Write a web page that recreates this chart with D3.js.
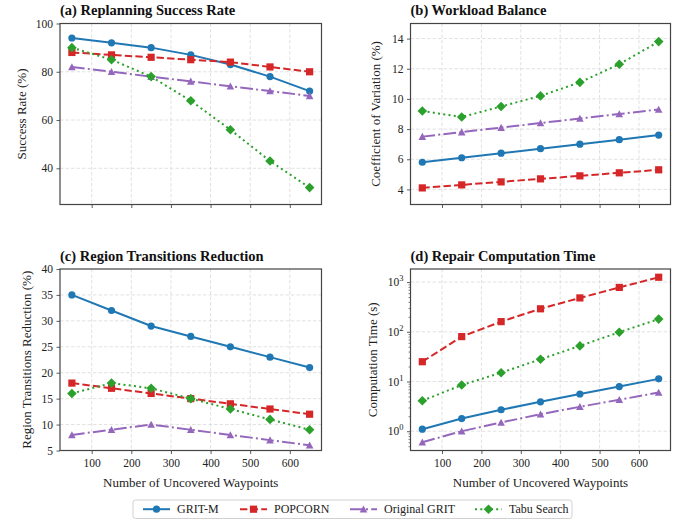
<!DOCTYPE html>
<html><head><meta charset="utf-8">
<script src="https://cdn.jsdelivr.net/npm/d3@7"></script>
<style>
body{margin:0;background:#fff;}
svg{font-family:"Liberation Serif","Times New Roman",serif;}
</style></head>
<body><svg id="c" width="683" height="520"></svg>
<script>
const waypoints = [50, 150, 250, 350, 450, 550, 650];
const seriesNames = ["GRIT-M", "POPCORN", "Original GRIT", "Tabu Search"];
const successRate = {
  "GRIT-M": [94, 92, 90, 87, 83, 78, 72],
  "POPCORN": [88, 87, 86, 85, 84, 82, 80],
  "Original GRIT": [82, 80, 78, 76, 74, 72, 70],
  "Tabu Search": [90, 85, 78, 68, 56, 43, 32]
};
const workloadCV = {
  "GRIT-M": [5.8, 6.1, 6.4, 6.7, 7.0, 7.3, 7.6],
  "POPCORN": [4.1, 4.3, 4.5, 4.7, 4.9, 5.1, 5.3],
  "Original GRIT": [7.5, 7.8, 8.1, 8.4, 8.7, 9.0, 9.3],
  "Tabu Search": [9.2, 8.8, 9.5, 10.2, 11.1, 12.3, 13.8]
};
const transitionsReduction = {
  "GRIT-M": [35, 32, 29, 27, 25, 23, 21],
  "POPCORN": [18, 17, 16, 15, 14, 13, 12],
  "Original GRIT": [8, 9, 10, 9, 8, 7, 6],
  "Tabu Search": [16, 18, 17, 15, 13, 11, 9]
};
const computationTime = {
  "GRIT-M": [1.1, 1.8, 2.7, 3.9, 5.6, 7.9, 11.3],
  "POPCORN": [25, 80, 160, 290, 480, 780, 1250],
  "Original GRIT": [0.6, 1.0, 1.5, 2.2, 3.1, 4.3, 6.0],
  "Tabu Search": [4.1, 8.5, 15, 28, 52, 98, 180]
};
const xTicks = [100, 200, 300, 400, 500, 600];
const ticksA = [40, 60, 80, 100];
const ticksB = [4, 6, 8, 10, 12, 14];
const ticksC = [5, 10, 15, 20, 25, 30, 35, 40];
const ticksD = [1, 10, 100, 1000];

const colors = {"GRIT-M":"#1f77b4","POPCORN":"#d62728","Original GRIT":"#9467bd","Tabu Search":"#2ca02c"};
const dashes = {"GRIT-M":null,"POPCORN":"7.4,3.2","Original GRIT":"12.8,3.2,2,3.2","Tabu Search":"2,3.3"};
const markers = {"GRIT-M":"circle","POPCORN":"square","Original GRIT":"triangle","Tabu Search":"diamond"};

const svg = d3.select("#c");

function markerPath(type){
  if(type==="circle") return d3.symbol(d3.symbolCircle, Math.PI*3.6*3.6)();
  if(type==="square") return "M-3.6,-3.6H3.6V3.6H-3.6Z";
  if(type==="triangle") return "M0,-3.8L3.8,3.3L-3.8,3.3Z";
  if(type==="diamond") return "M0,-4.8L4.8,0L0,4.8L-4.8,0Z";
}

function panel(opts){
  const {left, right, top, bottom, data, yDomain, yTicks, log, title, yLabel, yLabelX, showX} = opts;
  const g = svg.append("g");
  const x = d3.scaleLinear().domain([20, 680]).range([left, right]);
  const y = (log ? d3.scaleLog() : d3.scaleLinear()).domain(yDomain).range([bottom, top]);
  // grid
  const grid = g.append("g").attr("stroke","#d9d9d9").attr("stroke-width",0.8).attr("stroke-dasharray","3.5,2");
  xTicks.forEach(t=>grid.append("line").attr("x1",x(t)).attr("x2",x(t)).attr("y1",top).attr("y2",bottom));
  yTicks.forEach(t=>{ if(y(t)>top+0.5 && y(t)<bottom-0.5) grid.append("line").attr("x1",left).attr("x2",right).attr("y1",y(t)).attr("y2",y(t));});
  // axes
  const xAxis = d3.axisBottom(x).tickValues(xTicks).tickSize(3.5).tickPadding(4.5).tickFormat(showX ? d3.format("d") : "");
  const xg = g.append("g").attr("transform",`translate(0,${bottom})`).call(xAxis);
  let yAxis = d3.axisLeft(y).tickValues(yTicks).tickSize(3.5).tickPadding(3.5);
  if(log) yAxis = yAxis.tickFormat("");
  const yg = g.append("g").attr("transform",`translate(${left},0)`).call(yAxis);
  if(log){
    const minor = [];
    for(let e=-1;e<=3;e++) for(let m=2;m<=9;m++){ const v=m*Math.pow(10,e); if(v>yDomain[0]&&v<yDomain[1]) minor.push(v);}
    g.append("g").attr("transform",`translate(${left},0)`).call(d3.axisLeft(y).tickValues(minor).tickSize(2).tickFormat(""))
      .call(s=>s.select(".domain").remove()).selectAll("line").attr("stroke","#333").attr("stroke-width",0.6);
    yTicks.forEach(t=>{
      const txt = g.append("text").attr("x",left-7).attr("y",y(t)+4).attr("text-anchor","end").attr("font-size",11.5).attr("fill","#222");
      txt.append("tspan").text("10");
      txt.append("tspan").attr("dy",-5).attr("font-size",8.5).text(String(Math.round(Math.log10(t))));
    });
  }
  [xg,yg].forEach(a=>{
    a.select(".domain").remove();
    a.selectAll(".tick line").attr("stroke","#333").attr("stroke-width",0.8);
    a.selectAll(".tick text").attr("font-size",11.5).attr("fill","#222").attr("font-family","Liberation Serif");
  });
  // series
  seriesNames.forEach(name=>{
    const vals = data[name];
    const line = d3.line().x((d,i)=>x(waypoints[i])).y(d=>y(d));
    g.append("path").attr("d",line(vals)).attr("fill","none").attr("stroke",colors[name])
      .attr("stroke-width",2).attr("stroke-dasharray",dashes[name]);
    g.selectAll(null).data(vals).enter().append("path")
      .attr("d",markerPath(markers[name]))
      .attr("transform",(d,i)=>`translate(${x(waypoints[i])},${y(d)})`)
      .attr("fill",colors[name]);
  });
  // frame
  g.append("rect").attr("x",left).attr("y",top).attr("width",right-left).attr("height",bottom-top)
    .attr("fill","none").attr("stroke","#444").attr("stroke-width",1.2);
  // title
  g.append("text").attr("x",left).attr("y",top-8.5).attr("font-size",14.5).attr("font-weight","bold").attr("fill","#111").text(title);
  // y label
  g.append("text").attr("transform",`translate(${yLabelX},${(top+bottom)/2}) rotate(-90)`).attr("text-anchor","middle")
    .attr("dy","0.35em").attr("font-size",13).attr("fill","#222").text(yLabel);
  if(showX){
    g.append("text").attr("x",(left+right)/2).attr("y",bottom+36).attr("text-anchor","middle").attr("font-size",13).attr("fill","#222").text("Number of Uncovered Waypoints");
  }
}

function logDomain(obj){
  const all = seriesNames.flatMap(n=>obj[n]);
  const lo = Math.log10(d3.min(all)), hi = Math.log10(d3.max(all)), m=(hi-lo)*0.05;
  return [Math.pow(10,lo-m), Math.pow(10,hi+m)];
}

panel({left:60,right:321.5,top:23.5,bottom:204.5,data:successRate,yDomain:[25,100],yTicks:ticksA,title:"(a) Replanning Success Rate",yLabel:"Success Rate (%)",yLabelX:21.5,showX:false});
panel({left:410.5,right:670.5,top:23.5,bottom:204.5,data:workloadCV,yDomain:[3,15],yTicks:ticksB,title:"(b) Workload Balance",yLabel:"Coefficient of Variation (%)",yLabelX:375.5,showX:false});
panel({left:60,right:321.5,top:269,bottom:450.5,data:transitionsReduction,yDomain:[5,40],yTicks:ticksC,title:"(c) Region Transitions Reduction",yLabel:"Region Transitions Reduction (%)",yLabelX:26.5,showX:true});
panel({left:410.5,right:670.5,top:269,bottom:450.5,data:computationTime,yDomain:logDomain(computationTime),yTicks:ticksD,log:true,title:"(d) Repair Computation Time",yLabel:"Computation Time (s)",yLabelX:372.5,showX:true});

// legend
const lg = svg.append("g");
lg.append("rect").attr("x",133).attr("y",500).attr("width",439).attr("height",18.5).attr("rx",2.5)
  .attr("fill","#fff").attr("stroke","#ccc").attr("stroke-width",0.9);
const legX = [143, 240, 350, 475];
seriesNames.forEach((name,i)=>{
  const x0 = legX[i], yy = 509.2;
  lg.append("line").attr("x1",x0).attr("x2",x0+27).attr("y1",yy).attr("y2",yy).attr("stroke",colors[name]).attr("stroke-width",2).attr("stroke-dasharray",dashes[name]);
  lg.append("path").attr("d",markerPath(markers[name])).attr("transform",`translate(${x0+13.5},${yy})`).attr("fill",colors[name]);
  lg.append("text").attr("x",x0+34).attr("y",yy).attr("dy","0.35em").attr("font-size",12).attr("fill","#222").text(name);
});
</script></body></html>
